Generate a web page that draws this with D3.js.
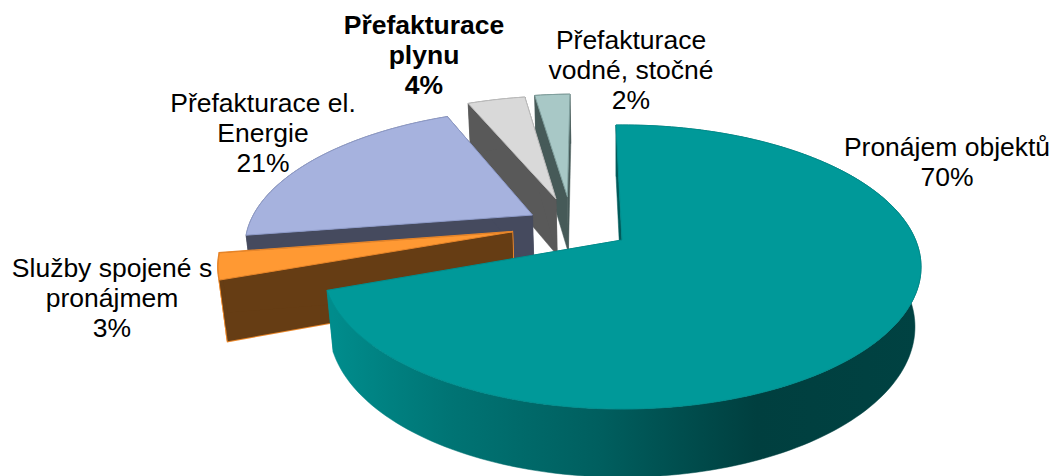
<html>
<head>
  <meta charset="utf-8" />
  <script src="https://cdn.jsdelivr.net/npm/d3@7"></script>
  <style>
    html, body { margin: 0; background: #fff; }
    text { font-family: "Liberation Sans", Arial, sans-serif; font-size: 26.5px; fill: #000; }
  </style>
</head>
<body>
  <svg id="chart" width="1053" height="476"></svg>
<script>

// data
const categories = [
  ['Pronájem objektů'],
  ['Služby spojené s', 'pronájmem'],
  ['Přefakturace el.', 'Energie'],
  ['Přefakturace', 'plynu'],
  ['Přefakturace', 'vodné, stočné']
]
const shares = [69.8, 3.1, 20.8, 3.9, 2.4]

// look of the slices
const topColors = ['#009999', '#ff9933', '#a6b2de', '#d9d9d9', '#a8c8c6']
const wallColors = ['url(#mainWall)', '#663d14', '#454a5e', '#595959', '#465a58']
const edgeColors = ['#008f8f', '#e8862a', '#8e9bc9', '#bdbdbd', '#7f9f9d']
const explode = [0.2, 0.21, 0.16, 0.215, 0.225]
const radii = [1, 0.98, 0.985, 1, 1]
const labelPos = [[947, 156], [112, 277], [263, 112], [424, 34], [631, 49]]
const boldLabel = [false, false, false, true, false]

// perspective: unit circle on the plane -> screen
const cx = 622, cy = 240, R = 293.6, S = 136.9, D = 60, p = 0.19, q = 0.02
const project = (u, v, h) => {
  const w = 1 - p * v + q * h
  return [cx + R * u / w, cy + (S * v + D * h) / w]
}

const svg = d3.select('#chart')

const grad = svg.append('defs').append('linearGradient')
  .attr('id', 'mainWall')
  .attr('gradientUnits', 'userSpaceOnUse')
  .attr('x1', 333).attr('x2', 921).attr('y1', 0).attr('y2', 0)
grad.selectAll('stop')
  .data([[0, '#008c8c'], [0.2, '#007474'], [0.45, '#005f5f'], [0.72, '#003f3f'], [1, '#004242']])
  .join('stop')
  .attr('offset', d => d[0])
  .attr('stop-color', d => d[1])

const pie = d3.pie().sort(null)
  .startAngle(-1.4 * Math.PI / 180)
  .endAngle((360 - 1.4) * Math.PI / 180)
const slices = pie(shares)

const line = d3.line().curve(d3.curveLinearClosed)
const dir = a => [Math.sin(a), -Math.cos(a)]

// main slice is the origin of the plane, the real centre sits behind it
const mainDir = dir((slices[0].startAngle + slices[0].endAngle) / 2)
const centre = [-explode[0] * mainDir[0] - 0.01, -explode[0] * mainDir[1]]

const geometry = slices.map((s, i) => {
  const m = dir((s.startAngle + s.endAngle) / 2)
  const apex = i === 0 ? [0, 0] : [centre[0] + explode[i] * m[0], centre[1] + explode[i] * m[1]]
  const rim = d3.range(0, 1.0001, 1 / Math.max(4, Math.round((s.endAngle - s.startAngle) * 40))).map(t => {
    const d = dir(s.startAngle + t * (s.endAngle - s.startAngle))
    return [apex[0] + radii[i] * d[0], apex[1] + radii[i] * d[1]]
  })
  return { i, apex, rim }
})

// back to front
const order = [4, 3, 2, 1, 0]

order.forEach(i => {
  const g = geometry[i]
  const gr = svg.append('g')
  const first = g.rim[0], last = g.rim[g.rim.length - 1]
  const walls = [
    [g.apex, first, [first[0], first[1], 1], [g.apex[0], g.apex[1], 1]].map(d => project(d[0], d[1], d[2] || 0)),
    [g.apex, last, [last[0], last[1], 1], [g.apex[0], g.apex[1], 1]].map(d => project(d[0], d[1], d[2] || 0)),
    g.rim.map(d => project(d[0], d[1], 0)).concat(g.rim.slice().reverse().map(d => project(d[0], d[1], 1)))
  ]
  // outline pass first, the fill pass then hides the inner lines
  walls.forEach(pts => gr.append('path')
    .attr('d', line(pts))
    .attr('fill', 'none')
    .attr('stroke', i === 1 ? '#e8862a' : wallColors[i])
    .attr('stroke-width', i === 1 ? 2 : 0.5))
  walls.forEach(pts => gr.append('path')
    .attr('d', line(pts))
    .attr('fill', wallColors[i]))
  gr.append('path')
    .attr('d', line([g.apex].concat(g.rim).map(d => project(d[0], d[1], 0))))
    .attr('fill', topColors[i])
    .attr('stroke', edgeColors[i])
    .attr('stroke-width', 1)
    .attr('stroke-linejoin', 'round')
})

const pct = d3.format('.0%')
const total = d3.sum(shares)
const lineGap = 30

categories.forEach((lines, i) => {
  const t = svg.append('text')
    .attr('text-anchor', 'middle')
    .attr('font-weight', boldLabel[i] ? 'bold' : 'normal')
  lines.concat([pct(shares[i] / total)]).forEach((txt, k) => {
    t.append('tspan')
      .attr('x', labelPos[i][0])
      .attr('y', labelPos[i][1] + k * lineGap)
      .text(txt)
  })
})

</script>
</body>
</html>
